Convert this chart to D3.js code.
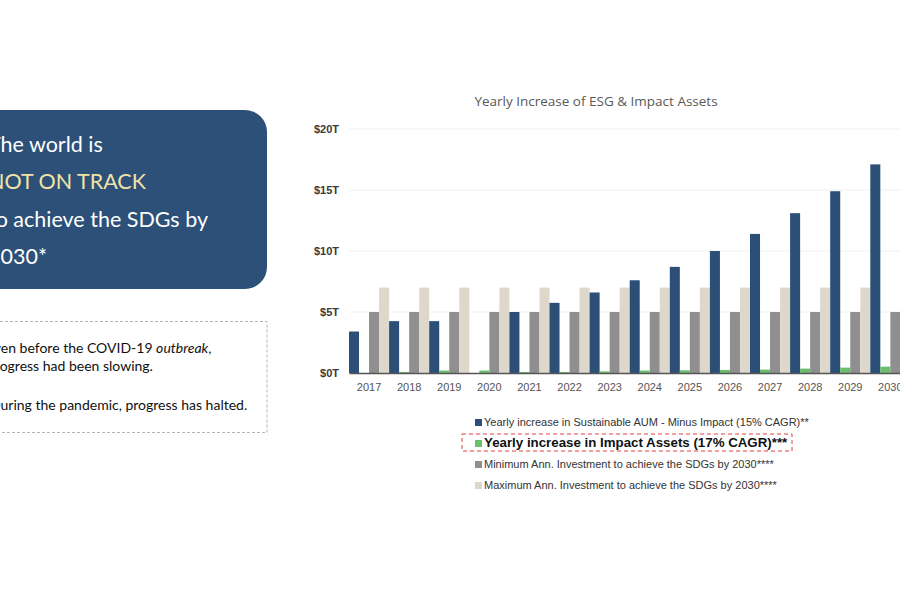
<!DOCTYPE html>
<html>
<head>
<meta charset="utf-8">
<script src="https://cdn.jsdelivr.net/npm/d3@7"></script>
<style>
  body { margin: 0; background: #fff; }
  svg { display: block; }
</style>
</head>
<body>
<svg id="chart"></svg>
<script>
// Data (values in $ trillions)
const years = ["2017","2018","2019","2020","2021","2022","2023","2024","2025","2026","2027","2028","2029","2030"];
const sustainableAUM = [3.4, 4.25, 4.25, 0, 5.0, 5.75, 6.6, 7.6, 8.7, 10.0, 11.4, 13.1, 14.9, 17.1];
const impactAssets   = [0, 0.08, 0.2, 0.2, 0.08, 0.08, 0.13, 0.2, 0.22, 0.25, 0.28, 0.36, 0.44, 0.52];
const minInvestment  = [5, 5, 5, 5, 5, 5, 5, 5, 5, 5, 5, 5, 5, 5];
const maxInvestment  = [7, 7, 7, 7, 7, 7, 7, 7, 7, 7, 7, 7, 7, 7];
const yTicks = [0, 5, 10, 15, 20];
const seriesNames = [
  "Yearly increase in Sustainable AUM - Minus Impact (15% CAGR)**",
  "Yearly increase in Impact Assets (17% CAGR)***",
  "Minimum Ann. Investment to achieve the SDGs by 2030****",
  "Maximum Ann. Investment to achieve the SDGs by 2030****"
];
const seriesColors = ["#2c4f77", "#6bbf6a", "#8f8f8f", "#ded8cc"];

const W = 900, H = 600;
const svg = d3.select("#chart").attr("width", W).attr("height", H);

// ---- left panel: headline box
const head = svg.append("g");
head.append("rect")
  .attr("x", -30).attr("y", 110)
  .attr("width", 297).attr("height", 179)
  .attr("rx", 22)
  .attr("fill", "#2c5078");
const headLines = [
  { t: "The world is", y: 152, c: "#ffffff" },
  { t: "NOT ON TRACK", y: 189, c: "#f1e2a6" },
  { t: "to achieve the SDGs by", y: 227, c: "#ffffff" },
  { t: "2030*", y: 264, c: "#ffffff" }
];
head.selectAll("text").data(headLines).join("text")
  .attr("x", -12).attr("y", d => d.y)
  .attr("fill", d => d.c)
  .style("font-family", "Lato, 'Open Sans', sans-serif")
  .style("font-size", "21.5px")
  .text(d => d.t);

// ---- left panel: dashed note box
const note = svg.append("g");
note.append("rect")
  .attr("x", -20).attr("y", 321.5)
  .attr("width", 287).attr("height", 111)
  .attr("fill", "none")
  .attr("stroke", "#b5b5b5")
  .attr("stroke-dasharray", "3,2");
const noteStyle = s => s.style("font-family", "Lato, 'Open Sans', sans-serif")
  .style("font-size", "14px").attr("fill", "#111");
const l1 = note.append("text").attr("x", -14).attr("y", 353).call(noteStyle);
l1.append("tspan").text("Even before the COVID-19 ");
l1.append("tspan").style("font-style", "italic").text("outbreak");
l1.append("tspan").text(",");
note.append("text").attr("x", -13).attr("y", 371).call(noteStyle).text("progress had been slowing.");
note.append("text").attr("x", -10).attr("y", 410).call(noteStyle).text("During the pandemic, progress has halted.");

// ---- chart
const x0 = 349, step = 40.1;
const x = d3.scaleBand().domain(years).range([x0, x0 + step * years.length]).padding(0);
const xs = d3.scaleBand().domain(d3.range(4)).range([0, x.bandwidth()]).padding(0);
const y = d3.scaleLinear().domain([0, 20]).range([373, 129]);

svg.append("text")
  .attr("x", 596).attr("y", 106)
  .attr("text-anchor", "middle")
  .attr("fill", "#595959")
  .style("font-family", "'Open Sans', sans-serif")
  .style("font-size", "13.5px")
  .text("Yearly Increase of ESG & Impact Assets");

// grid
svg.append("g").selectAll("line").data(yTicks.filter(d => d > 0)).join("line")
  .attr("x1", x0).attr("x2", W)
  .attr("y1", d => y(d)).attr("y2", d => y(d))
  .attr("stroke", "#f0f0f0").attr("stroke-width", 1);

// y axis labels
const yAxis = d3.axisLeft(y).tickValues(yTicks).tickSize(0).tickPadding(10)
  .tickFormat(d => "$" + d + "T");
svg.append("g")
  .attr("transform", `translate(${x0},0)`)
  .call(yAxis)
  .call(g => g.select(".domain").remove())
  .call(g => g.selectAll("text")
    .attr("fill", "#3a3a3a")
    .style("font-family", "'Liberation Sans', Arial, sans-serif")
    .style("font-weight", "bold")
    .style("font-size", "11px"));

// bars
const seriesData = [sustainableAUM, impactAssets, minInvestment, maxInvestment];
const groups = svg.append("g").selectAll("g").data(years).join("g")
  .attr("transform", d => `translate(${x(d)},0)`);
groups.selectAll("rect")
  .data((yr, i) => seriesData.map((s, k) => ({ k, v: s[i] })))
  .join("rect")
  .attr("x", d => xs(d.k))
  .attr("width", xs.bandwidth())
  .attr("y", d => y(d.v))
  .attr("height", d => y(0) - y(d.v))
  .attr("fill", d => seriesColors[d.k]);

// x axis
const xAxis = d3.axisBottom(x).tickSize(0).tickPadding(10);
svg.append("g")
  .attr("transform", `translate(0,${y(0)})`)
  .call(xAxis)
  .call(g => g.select(".domain").attr("stroke", "#555").attr("stroke-width", 1.5))
  .call(g => g.selectAll("text")
    .attr("fill", "#555")
    .style("font-family", "'Liberation Sans', Arial, sans-serif")
    .style("font-size", "11px"));

// legend
const legendRows = [
  { y: 426, size: 11, bold: false },
  { y: 447, size: 13.3, bold: true },
  { y: 468, size: 11, bold: false },
  { y: 489, size: 11, bold: false }
];
const legend = svg.append("g");
legend.append("rect")
  .attr("x", 462).attr("y", 434)
  .attr("width", 330).attr("height", 17)
  .attr("fill", "none")
  .attr("stroke", "#e0413f")
  .attr("stroke-dasharray", "4,3");
const lg = legend.selectAll("g").data(seriesNames).join("g");
lg.append("rect")
  .attr("x", 475).attr("y", (d, i) => legendRows[i].y - 7)
  .attr("width", 7).attr("height", 7)
  .attr("fill", (d, i) => seriesColors[i]);
lg.append("text")
  .attr("x", 484).attr("y", (d, i) => legendRows[i].y)
  .attr("fill", (d, i) => legendRows[i].bold ? "#111" : "#333")
  .style("font-family", "'Liberation Sans', Arial, sans-serif")
  .style("font-size", (d, i) => legendRows[i].size + "px")
  .style("font-weight", (d, i) => legendRows[i].bold ? "bold" : "normal")
  .text(d => d);
</script>
</body>
</html>
